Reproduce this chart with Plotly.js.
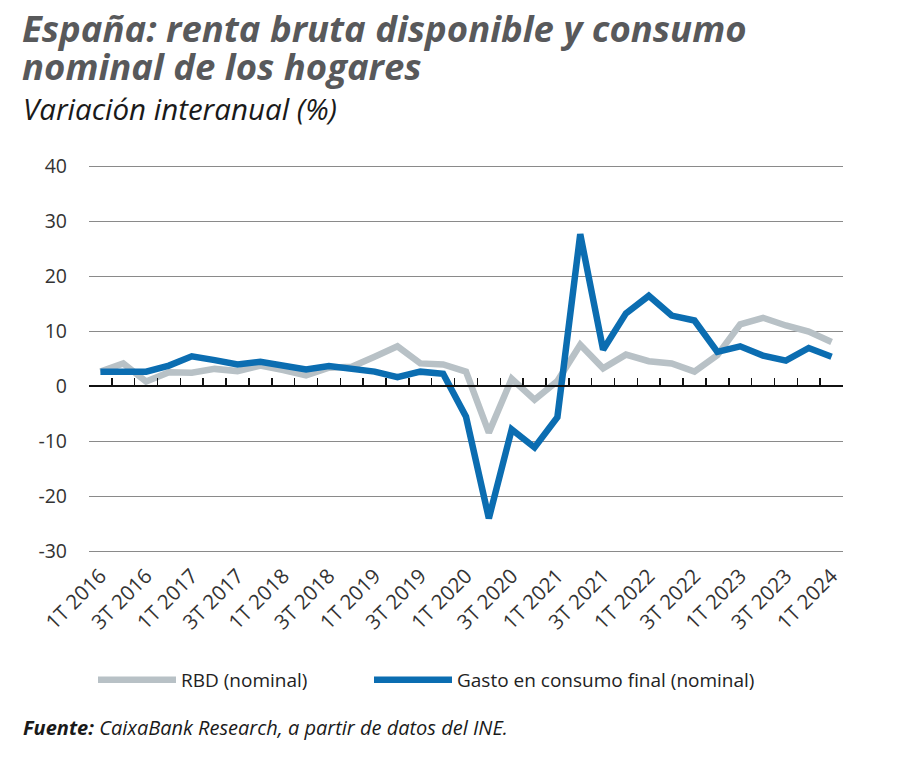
<!DOCTYPE html>
<html>
<head>
<meta charset="utf-8">
<script src="https://cdn.plot.ly/plotly-3.0.1.min.js"></script>
<style>
html,body{margin:0;padding:0;background:#fff;}
#chart{width:900px;height:758px;}
</style>
</head>
<body>
<div id="chart"></div>
<script>
const quarters = ["1T 2016","2T 2016","3T 2016","4T 2016","1T 2017","2T 2017","3T 2017","4T 2017",
  "1T 2018","2T 2018","3T 2018","4T 2018","1T 2019","2T 2019","3T 2019","4T 2019",
  "1T 2020","2T 2020","3T 2020","4T 2020","1T 2021","2T 2021","3T 2021","4T 2021",
  "1T 2022","2T 2022","3T 2022","4T 2022","1T 2023","2T 2023","3T 2023","4T 2023","1T 2024"];
const tickLabels = ["1T 2016","3T 2016","1T 2017","3T 2017","1T 2018","3T 2018","1T 2019","3T 2019",
  "1T 2020","3T 2020","1T 2021","3T 2021","1T 2022","3T 2022","1T 2023","3T 2023","1T 2024"];
const rbd = [2.7,4.2,0.9,2.6,2.5,3.2,2.8,3.8,3.0,2.0,3.4,3.6,5.4,7.3,4.2,4.0,2.7,-8.4,1.4,-2.4,1.0,7.6,3.3,5.8,4.6,4.2,2.7,5.7,11.3,12.5,11.1,10.0,8.1];
const gasto = [2.7,2.7,2.7,3.8,5.5,4.8,4.0,4.5,3.7,3.1,3.7,3.1,2.7,1.7,2.7,2.3,-5.5,-24.0,-7.8,-11.1,-5.6,27.7,6.7,13.3,16.5,12.9,12.0,6.3,7.3,5.6,4.7,7.0,5.4];
const yTicks = [-30,-20,-10,0,10,20,30,40];
const yTickText = ["-30","-20","-10","0","10","20","30","40"];
const seriesNames = ["RBD (nominal)", "Gasto en consumo final (nominal)"];
const titleLines = ["España: renta bruta disponible y consumo", "nominal de los hogares"];
const subtitle = "Variación interanual (%)";
const sourceLabel = "Fuente:";
const sourceText = " CaixaBank Research, a partir de datos del INE.";

const yRange = [-30.3, 40.3];
const zeroPos = (0 - yRange[0]) / (yRange[1] - yRange[0]);
const xRange = [-0.5, quarters.length - 0.5];
const font = "'Open Sans', sans-serif";

const M = {l: 89, r: 57, t: 165, b: 205};
const H = 758, W = 900;
const plotH = H - M.t - M.b, plotW = W - M.l - M.r;
const py = px => (H - M.b - px) / plotH;   // pixel row -> paper y
const pxx = px => (px - M.l) / plotW;      // pixel col -> paper x

const traces = [
  {x: quarters, y: rbd, name: seriesNames[0], type: 'scatter', mode: 'lines',
   xaxis: 'x', yaxis: 'y', legend: 'legend',
   line: {color: '#b8c1c6', width: 6.5}},
  {x: quarters, y: gasto, name: seriesNames[1], type: 'scatter', mode: 'lines',
   xaxis: 'x2', yaxis: 'y', legend: 'legend2',
   line: {color: '#0b6db1', width: 6.5}}
];

const legendBase = {
  orientation: 'h', xanchor: 'left', yanchor: 'middle', y: py(680),
  font: {family: font, size: 19, color: '#222'},
  itemwidth: 78, bgcolor: 'rgba(0,0,0,0)'
};

const layout = {
  width: W, height: H,
  paper_bgcolor: '#fff', plot_bgcolor: '#fff',
  margin: M,
  showlegend: true,
  xaxis: {
    type: 'category', categoryorder: 'array', categoryarray: quarters,
    range: xRange, anchor: 'free', position: zeroPos,
    showline: true, linecolor: '#111', linewidth: 2,
    ticks: 'inside', tickson: 'boundaries', ticklen: 7, tickwidth: 1.5, tickcolor: '#111',
    showticklabels: false, showgrid: false, zeroline: false, fixedrange: true, automargin: false
  },
  xaxis2: {
    type: 'category', categoryorder: 'array', categoryarray: quarters,
    range: xRange, overlaying: 'x', anchor: 'y', side: 'bottom',
    tickmode: 'array', tickvals: tickLabels, ticktext: tickLabels,
    tickangle: -45, ticks: '', showline: false, showgrid: false, zeroline: false,
    ticklabelstandoff: 6,
    tickfont: {family: font, size: 20.5, color: '#333'}, fixedrange: true, automargin: false
  },
  yaxis: {
    range: yRange, tickmode: 'array', tickvals: yTicks, ticktext: yTickText,
    showgrid: true, gridcolor: '#8a8a8a', gridwidth: 1.5,
    zeroline: false, showline: false, ticks: '',
    ticklabelstandoff: 21, automargin: false,
    tickfont: {family: font, size: 19.5, color: '#333'}, fixedrange: true
  },
  legend: Object.assign({}, legendBase, {x: pxx(93)}),
  legend2: Object.assign({}, legendBase, {x: pxx(369)}),
  annotations: [
    {text: '<b><i>' + titleLines[0] + '</i></b>', xref: 'paper', yref: 'paper',
     x: pxx(20), y: py(28), xanchor: 'left', yanchor: 'middle', showarrow: false,
     font: {family: font, size: 36.5, color: '#58595b'}},
    {text: '<b><i>' + titleLines[1] + '</i></b>', xref: 'paper', yref: 'paper',
     x: pxx(20), y: py(66), xanchor: 'left', yanchor: 'middle', showarrow: false,
     font: {family: font, size: 36.5, color: '#58595b'}},
    {text: '<i>' + subtitle + '</i>', xref: 'paper', yref: 'paper',
     x: pxx(21), y: py(108), xanchor: 'left', yanchor: 'middle', showarrow: false,
     font: {family: font, size: 29.5, color: '#1a1a1a'}},
    {text: '<b><i>' + sourceLabel + '</i></b><i>' + sourceText + '</i>',
     xref: 'paper', yref: 'paper', x: pxx(21), y: py(727),
     xanchor: 'left', yanchor: 'middle', showarrow: false,
     font: {family: font, size: 20, color: '#1a1a1a'}}
  ]
};

Plotly.newPlot('chart', traces, layout, {displayModeBar: false, staticPlot: true});
</script>
</body>
</html>
